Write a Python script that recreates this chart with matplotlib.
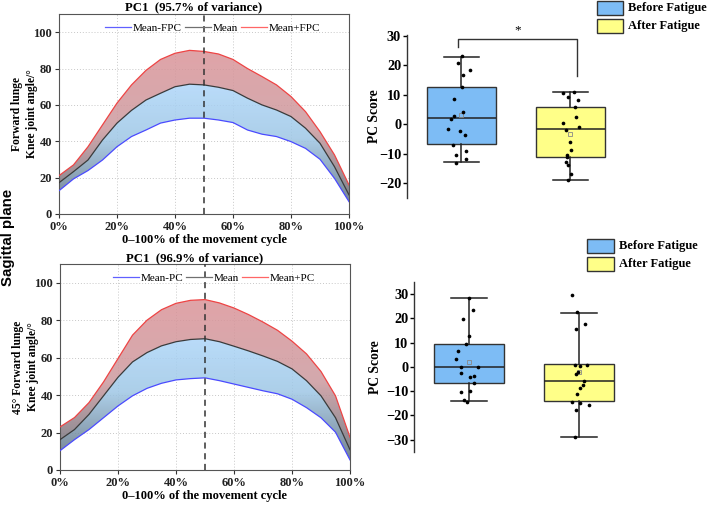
import numpy as np
import matplotlib
matplotlib.use("Agg")
import matplotlib.pyplot as plt
from matplotlib.colors import LinearSegmentedColormap
from matplotlib.patches import Rectangle
from matplotlib.lines import Line2D

plt.rcParams['font.family'] = ['Liberation Serif', 'DejaVu Serif']

# ---------------- data ----------------
cycle_pct = [0, 5, 10, 15, 20, 25, 30, 35, 40, 45, 50, 55, 60, 65, 70, 75, 80, 85, 90, 95, 100]

fl_plus = [21.1, 27, 37, 49, 61, 71, 79, 85, 88.4, 90, 89.4, 88, 85, 80, 75.6, 71, 64.6, 56.3, 45.3, 32.5, 16]
fl_mean = [17.2, 23.3, 29.7, 40.7, 50, 57, 62.7, 66.4, 70, 71.4, 71, 69.7, 67.9, 63.7, 60, 57.2, 53.6, 47.2, 38.9, 26, 10.5]
fl_minus = [12.8, 19.3, 23.9, 29.7, 37, 42.6, 46.2, 50, 51.7, 52.7, 52.7, 51.7, 50.3, 46.2, 43.9, 42.6, 39.8, 36.1, 30.1, 19.6, 6.8]

fl45_plus = [23, 28, 36, 47, 59.5, 72, 80, 85.6, 89, 90.6, 91, 89.2, 86.5, 83, 79, 74.6, 68.8, 62, 52.6, 39.6, 17.5]
fl45_mean = [16.2, 21.6, 29.7, 39.6, 49.5, 57.7, 62.7, 66.3, 68.5, 69.7, 70.1, 68.5, 66.1, 63.6, 60.9, 58, 54, 47.7, 39.6, 27.9, 10.8]
fl45_minus = [10.3, 16.2, 21.6, 27.9, 34.2, 39.6, 43.6, 46.3, 48.1, 48.8, 49.2, 47.7, 45.9, 44.1, 42.3, 40.7, 37.8, 33.3, 27.9, 20.2, 5.4]

groups = ['Before Fatigue', 'After Fatigue']

# PC scores (forward lunge)
fl_before = [23.2, 20.7, 16.8, 18.4, 12.5, 8.7, 4.1, 2.7, 1.9, -1.7, -2.3, -3.7, -7.1, -9.0, -10.6, -11.8, -13.3]
fl_before_jit = [0.003, -0.027, 0.012, 0.080, 0.003, -0.070, 0.015, -0.067, -0.098, -0.119, -0.015, 0.034, -0.073, 0.046, -0.046, 0.043, -0.052]
fl_after = [11.1, 10.5, 9.4, 8.2, 5.7, 2.6, 0.5, -0.8, -2.0, -6.2, -8.7, -10.6, -11.3, -13.0, -14.0, -16.8, -19.0]
fl_after_jit = [0.034, -0.067, -0.024, 0.067, 0.043, 0.049, -0.070, 0.083, -0.043, -0.003, 0.003, -0.027, -0.027, -0.034, -0.021, 0.003, -0.018]
fl_stats = [dict(q1=-6.8, med=2.0, q3=12.5, whislo=-13.0, whishi=23.0, mean=3.0),
            dict(q1=-11.3, med=-1.8, q3=6.0, whislo=-19.0, whishi=11.0, mean=-3.2)]

# PC scores (45 deg forward lunge)
fl45_before = [28.5, 23.3, 19.7, 12.9, 9.3, 6.4, 3.2, 0.1, -0.1, -2.6, -4.1, -3.8, -6.7, -10.5, -10.0, -13.8, -14.5]
fl45_before_jit = [0.003, 0.034, -0.052, 0.003, -0.028, -0.101, -0.116, -0.070, 0.083, -0.070, 0.009, 0.049, 0.046, -0.077, 0.012, -0.043, -0.015]
fl45_after = [29.5, 22.6, 17.5, 15.6, 0.8, 0.4, 0.8, -2.3, -2.9, -5.9, -7.5, -8.6, -11.1, -14.4, -14.9, -15.5, -17.7, -28.8]
fl45_after_jit = [-0.066, -0.020, 0.050, -0.026, -0.035, 0.011, 0.072, -0.011, -0.023, 0.047, 0.038, 0.008, -0.020, -0.066, 0.008, 0.087, -0.023, -0.032]
fl45_stats = [dict(q1=-6.7, med=-0.2, q3=9.3, whislo=-14.2, whishi=28.5, mean=2.2),
              dict(q1=-14.2, med=-5.8, q3=1.0, whislo=-28.7, whishi=22.3, mean=-2.2)]

# ---------------- figure ----------------
fig = plt.figure(figsize=(7.08, 5.05), dpi=100)
W, H = 708, 505

def ax_px(l, t, r, b):
    return fig.add_axes([l / W, 1 - b / H, (r - l) / W, (b - t) / H])

upper_cmap = LinearSegmentedColormap.from_list('u', [(0.0, (0.42, 0.44, 0.48)), (0.45, (0.80, 0.60, 0.62)), (1.0, (0.86, 0.58, 0.60))])
lower_cmap = LinearSegmentedColormap.from_list('l', [(0.0, (0.36, 0.42, 0.48)), (0.55, (0.62, 0.78, 0.90)), (1.0, (0.68, 0.84, 0.98))])

def grad_fill(ax, x, ylo, yhi, cmap, vmin, vmax):
    poly = ax.fill_between(x, ylo, yhi, color='none', lw=0)
    path = poly.get_paths()[0]
    grad = np.linspace(0, 1, 256).reshape(-1, 1)
    im = ax.imshow(grad, cmap=cmap, extent=[0, 100, vmin, vmax], origin='lower',
                   aspect='auto', zorder=1, alpha=0.85, interpolation='bilinear')
    im.set_clip_path(path, transform=ax.transData)

def curve_panel(ax, minus, mean, plus, title, title_y, lab_minus, lab_plus, ylabel):
    x = np.array(cycle_pct, dtype=float)
    grad_fill(ax, x, mean, plus, upper_cmap, 10, 92)
    grad_fill(ax, x, minus, mean, lower_cmap, 5, 72)
    ax.plot(x, minus, color='#4a4aff', lw=0.9, zorder=3)
    ax.plot(x, mean, color='#3a3a3a', lw=0.9, zorder=3)
    ax.plot(x, plus, color='#ee4444', lw=0.9, zorder=3)
    ax.axvline(50, color='#333333', ls=(0, (4, 3)), lw=1.1, zorder=4)
    ax.set_xlim(0, 100)
    ax.set_ylim(0, 110)
    ax.set_xticks([0, 20, 40, 60, 80, 100])
    ax.set_xticklabels(['0%', '20%', '40%', '60%', '80%', '100%'])
    ax.set_yticks([0, 20, 40, 60, 80, 100])
    ax.grid(True, ls=(0, (1, 2)), color='#c8c8c8', lw=0.7, zorder=0)
    ax.set_axisbelow(True)
    for s in ax.spines.values():
        s.set_color('#555555')
        s.set_linewidth(0.8)
    ax.tick_params(direction='out', length=3, width=0.8, colors='#333333', labelsize=9, pad=2)
    for t in ax.get_xticklabels() + ax.get_yticklabels():
        t.set_fontweight('bold')
        t.set_color('#222222')
    ax.text(0.464, title_y, title, transform=ax.transAxes, fontsize=9.2,
            fontweight='bold', ha='center', va='center')
    ax.set_xlabel('0–100% of the movement cycle', fontsize=9, fontweight='bold', labelpad=1)
    ax.set_ylabel(ylabel, fontsize=8.4, fontweight='bold', linespacing=1.25)
    ax.yaxis.set_label_coords(-0.074, 0.5)
    handles = [Line2D([], [], color='#6060ff', lw=0.9),
               Line2D([], [], color='#707070', lw=0.9),
               Line2D([], [], color='#ff6666', lw=0.9)]
    ax.legend(handles, [lab_minus, 'Mean', lab_plus], loc='upper center', ncol=3,
              frameon=False, fontsize=8, bbox_to_anchor=(0.53, 1.005),
              handlelength=2.35, handletextpad=0.15, columnspacing=0.25)

ax1 = ax_px(59, 14, 349, 214)
curve_panel(ax1, fl_minus, fl_mean, fl_plus, 'PC1  (95.7% of variance)', 1.036,
            'Mean-FPC', 'Mean+FPC', 'Forward lunge\nKnee joint angle/°')
ax2 = ax_px(60, 264, 350, 470)
curve_panel(ax2, fl45_minus, fl45_mean, fl45_plus, 'PC1  (96.9% of variance)', 1.026,
            'Mean-PC', 'Mean+PC', '45° Forward lunge\nKnee joint angle/°')

fig.text(8 / W, 1 - 237 / H, 'Sagittal plane', rotation=90, fontsize=10.8, fontweight='bold',
         ha='center', va='center', family=['Liberation Sans', 'DejaVu Sans'])

box_colors = ['#7dbcf5', '#ffff88']

def box_panel(ax, stats, before, bjit, after, ajit, ylim, yticks, label_x):
    st = [dict(s, fliers=[]) for s in stats]
    bp = ax.bxp(st, positions=[1, 2], widths=0.636, capwidths=0.32, patch_artist=True,
                showmeans=True, showfliers=False,
                boxprops=dict(edgecolor='#333333', lw=1.0),
                medianprops=dict(color='#222222', lw=1.1),
                whiskerprops=dict(color='#222222', lw=1.1),
                capprops=dict(color='#222222', lw=1.1),
                meanprops=dict(marker='s', markersize=2.5, markerfacecolor='none',
                               markeredgecolor='#888888', markeredgewidth=0.6))
    for p, c in zip(bp['boxes'], box_colors):
        p.set_facecolor(c)
    ax.scatter(1 + np.array(bjit), before, s=7, color='black', zorder=5, lw=0)
    ax.scatter(2 + np.array(ajit), after, s=7, color='black', zorder=5, lw=0)
    ax.set_xlim(0.5, 2.5)
    ax.set_ylim(*ylim)
    ax.set_yticks(yticks)
    ax.set_xticks([])
    for s in ['top', 'right', 'bottom']:
        ax.spines[s].set_visible(False)
    ax.spines['left'].set_color('#333333')
    ax.spines['left'].set_linewidth(1.0)
    ax.tick_params(axis='y', direction='out', length=3, width=1.0, labelsize=10.3, pad=1)
    ax.set_yticklabels([str(v).replace('-', '−') for v in yticks])
    for t in ax.get_yticklabels():
        t.set_fontweight('bold')
    ax.set_ylabel('PC Score', fontsize=9.8, fontweight='bold')
    ax.yaxis.set_label_coords(label_x, 0.5)
    ax.patch.set_alpha(0)

ax3 = ax_px(406.7, 34.5, 624.7, 197.7)
box_panel(ax3, fl_stats, fl_before, fl_before_jit, fl_after, fl_after_jit,
          (-25, 30.5), [-20, -10, 0, 10, 20, 30], -0.118)
ax3.plot([0.97, 0.97, 2.06, 2.06], [26.4, 28.9, 28.9, 16.4], color='#333333', lw=1.0, clip_on=False)
ax3.text(1.515, 32.0, '*', ha='center', va='center', fontsize=9.5)

ax4 = ax_px(414, 281.8, 634, 451.9)
box_panel(ax4, fl45_stats, fl45_before, fl45_before_jit, fl45_after, fl45_after_jit,
          (-35, 35), [-30, -20, -10, 0, 10, 20, 30], -0.145)

def manual_legend(x0, y0):
    for i, (c, lab) in enumerate(zip(box_colors, groups)):
        top = y0 + i * 18
        fig.patches.append(Rectangle((x0 / W, 1 - (top + 13.5) / H), 26.5 / W, 13.5 / H,
                                     transform=fig.transFigure, facecolor=c,
                                     edgecolor='#333333', lw=1.0))
        fig.text((x0 + 32) / W, 1 - (top + 7) / H, lab, fontsize=9, fontweight='bold',
                 ha='left', va='center')

manual_legend(596.5, 1)
manual_legend(587, 239)

fig.savefig('out.png', dpi=100)
